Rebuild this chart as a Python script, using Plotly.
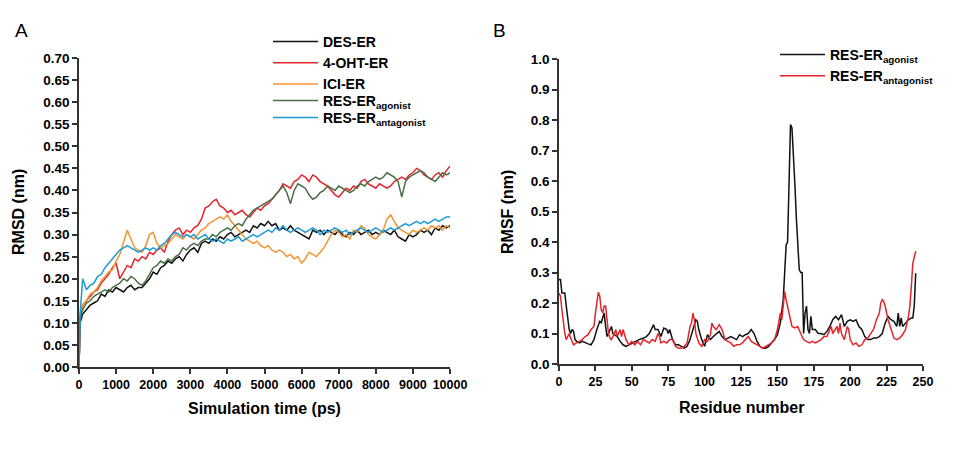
import plotly.graph_objects as go

# ---------------- Panel A data (RMSD vs time) ----------------
time_ps = [0, 30] + list(range(100, 10001, 100))

des_er = [0, 0.10, 0.12, 0.13, 0.14, 0.145, 0.15, 0.165, 0.16, 0.175, 0.17, 0.18,
          0.175, 0.17, 0.18, 0.185, 0.175, 0.18, 0.18, 0.19, 0.20, 0.215,
          0.21, 0.225, 0.23, 0.24, 0.235, 0.245, 0.25, 0.24, 0.255, 0.265,
          0.27, 0.26, 0.28, 0.285, 0.28, 0.29, 0.285, 0.295, 0.29, 0.30,
          0.305, 0.295, 0.30, 0.305, 0.31, 0.305, 0.32, 0.315, 0.325, 0.32,
          0.33, 0.32, 0.325, 0.31, 0.315, 0.31, 0.32, 0.31, 0.305, 0.30,
          0.295, 0.29, 0.31, 0.305, 0.31, 0.30, 0.31, 0.305, 0.30, 0.31,
          0.30, 0.295, 0.305, 0.30, 0.31, 0.30, 0.305, 0.31, 0.30, 0.305,
          0.30, 0.31, 0.305, 0.30, 0.31, 0.295, 0.29, 0.285, 0.30, 0.295,
          0.30, 0.31, 0.305, 0.31, 0.30, 0.315, 0.31, 0.32, 0.315, 0.32]

ohtt_er = [0, 0.11, 0.14, 0.15, 0.16, 0.17, 0.175, 0.19, 0.20, 0.21, 0.225, 0.235,
           0.20, 0.215, 0.23, 0.225, 0.245, 0.24, 0.25, 0.245, 0.26, 0.255,
           0.265, 0.27, 0.26, 0.285, 0.30, 0.31, 0.315, 0.30, 0.31, 0.305,
           0.315, 0.32, 0.335, 0.36, 0.365, 0.375, 0.38, 0.365, 0.36, 0.35,
           0.355, 0.345, 0.35, 0.355, 0.345, 0.34, 0.35, 0.36, 0.355, 0.365,
           0.37, 0.38, 0.39, 0.40, 0.415, 0.41, 0.405, 0.42, 0.425, 0.435,
           0.43, 0.42, 0.435, 0.43, 0.42, 0.415, 0.41, 0.40, 0.39, 0.385,
           0.395, 0.405, 0.40, 0.41, 0.405, 0.42, 0.425, 0.415, 0.41, 0.405,
           0.415, 0.41, 0.405, 0.41, 0.42, 0.425, 0.43, 0.425, 0.435, 0.44,
           0.45, 0.445, 0.435, 0.43, 0.425, 0.435, 0.44, 0.43, 0.445, 0.455]

ici_er = [0, 0.12, 0.14, 0.15, 0.165, 0.17, 0.18, 0.195, 0.205, 0.215, 0.22, 0.24,
          0.255, 0.285, 0.31, 0.29, 0.27, 0.265, 0.26, 0.275, 0.30, 0.305,
          0.28, 0.27, 0.275, 0.28, 0.29, 0.30, 0.295, 0.29, 0.30, 0.295,
          0.29, 0.30, 0.31, 0.315, 0.325, 0.33, 0.335, 0.34, 0.335, 0.345,
          0.33, 0.32, 0.31, 0.30, 0.29, 0.285, 0.28, 0.285, 0.275, 0.27,
          0.275, 0.265, 0.26, 0.265, 0.26, 0.25, 0.255, 0.245, 0.25, 0.235,
          0.245, 0.26, 0.255, 0.25, 0.26, 0.27, 0.285, 0.30, 0.31, 0.305,
          0.295, 0.30, 0.29, 0.31, 0.305, 0.32, 0.315, 0.30, 0.295, 0.29,
          0.30, 0.31, 0.335, 0.345, 0.33, 0.315, 0.31, 0.305, 0.30, 0.31,
          0.305, 0.31, 0.315, 0.31, 0.32, 0.315, 0.32, 0.31, 0.32, 0.315]

res_agonist_a = [0, 0.11, 0.13, 0.145, 0.15, 0.16, 0.165, 0.17, 0.175, 0.17, 0.18, 0.185,
                 0.19, 0.20, 0.195, 0.205, 0.20, 0.19, 0.185, 0.195, 0.21, 0.225,
                 0.23, 0.24, 0.235, 0.245, 0.24, 0.25, 0.255, 0.27, 0.265, 0.275,
                 0.28, 0.275, 0.285, 0.29, 0.29, 0.30, 0.295, 0.305, 0.31, 0.315,
                 0.31, 0.32, 0.325, 0.32, 0.335, 0.345, 0.355, 0.36, 0.365, 0.37,
                 0.375, 0.38, 0.39, 0.40, 0.41, 0.395, 0.37, 0.40, 0.415, 0.41,
                 0.405, 0.39, 0.38, 0.385, 0.395, 0.40, 0.41, 0.405, 0.40, 0.41,
                 0.405, 0.40, 0.395, 0.40, 0.41, 0.415, 0.41, 0.42, 0.425, 0.43,
                 0.425, 0.43, 0.44, 0.435, 0.43, 0.42, 0.385, 0.42, 0.43, 0.435,
                 0.44, 0.445, 0.44, 0.43, 0.425, 0.42, 0.43, 0.44, 0.435, 0.44]

res_antagonist_a = [0, 0.12, 0.20, 0.175, 0.185, 0.19, 0.205, 0.21, 0.225, 0.235, 0.245, 0.255,
                    0.265, 0.27, 0.275, 0.27, 0.265, 0.26, 0.265, 0.27, 0.265, 0.27,
                    0.265, 0.275, 0.28, 0.29, 0.30, 0.305, 0.30, 0.295, 0.30, 0.295,
                    0.30, 0.29, 0.295, 0.30, 0.29, 0.285, 0.29, 0.285, 0.28, 0.29,
                    0.285, 0.29, 0.295, 0.285, 0.29, 0.295, 0.30, 0.295, 0.30, 0.305,
                    0.31, 0.305, 0.315, 0.31, 0.32, 0.31, 0.305, 0.31, 0.315, 0.31,
                    0.305, 0.31, 0.315, 0.31, 0.30, 0.31, 0.305, 0.31, 0.315, 0.31,
                    0.305, 0.31, 0.30, 0.305, 0.31, 0.315, 0.31, 0.305, 0.31, 0.315,
                    0.31, 0.305, 0.31, 0.315, 0.31, 0.315, 0.32, 0.325, 0.32, 0.325,
                    0.33, 0.325, 0.33, 0.325, 0.33, 0.335, 0.33, 0.335, 0.34, 0.34]

# ---------------- Panel B data (RMSF vs residue) ----------------
res_ag_x = [0, 1, 2, 3, 4, 5, 6, 7, 8, 9, 10, 11, 12, 14, 16, 18, 20, 22, 24, 26, 28, 29, 30,
            31, 32, 33, 34, 35, 36, 37, 38, 40, 42, 44, 46, 48, 50, 52, 55, 58, 60, 62, 64,
            65, 66, 68, 70, 72, 74, 75, 76, 78, 80, 82, 84, 86, 88, 90, 92, 94, 95, 96, 98,
            100, 102, 104, 106, 108, 110, 112, 114, 116, 118, 120, 122, 124, 126, 128, 130,
            132, 134, 136, 138, 140, 142, 144, 146, 148, 150, 152, 154, 155, 156, 157, 158,
            159, 160, 161, 162, 163, 164, 165, 166, 167, 168, 169, 170, 171, 172, 173, 174,
            176, 178, 180, 182, 184, 186, 188, 190, 192, 194, 196, 198, 200, 202, 204, 206,
            208, 210, 212, 214, 216, 218, 220, 222, 224, 226, 228, 230, 232, 233, 234, 235,
            236, 238, 240, 242, 243, 244, 245]
res_ag_y = [0.277, 0.277, 0.233, 0.233, 0.233, 0.19, 0.156, 0.113, 0.10, 0.113, 0.107, 0.08,
            0.075, 0.069, 0.074, 0.069, 0.066, 0.063, 0.08, 0.113, 0.14, 0.135, 0.15,
            0.167, 0.124, 0.09, 0.10, 0.113, 0.123, 0.10, 0.096, 0.09, 0.074, 0.063, 0.058,
            0.063, 0.069, 0.074, 0.08, 0.085, 0.09, 0.10, 0.123,
            0.129, 0.113, 0.113, 0.09, 0.118, 0.113, 0.10, 0.113, 0.08, 0.063, 0.063, 0.058,
            0.052, 0.058, 0.08, 0.113, 0.145, 0.14, 0.113, 0.08,
            0.058, 0.096, 0.08, 0.09, 0.10, 0.107, 0.09, 0.08, 0.085, 0.09, 0.085, 0.08,
            0.096, 0.09, 0.096, 0.10,
            0.113, 0.10, 0.074, 0.058, 0.052, 0.052, 0.058, 0.069, 0.08, 0.096, 0.134, 0.21,
            0.31, 0.39, 0.40, 0.59,
            0.785, 0.774, 0.70, 0.59, 0.48, 0.397, 0.31, 0.30, 0.30, 0.10, 0.167, 0.19, 0.113,
            0.10, 0.156, 0.113,
            0.113, 0.10, 0.10, 0.096, 0.107, 0.123, 0.145, 0.156, 0.145, 0.162, 0.123, 0.14,
            0.145, 0.14, 0.145, 0.123,
            0.113, 0.09, 0.08, 0.08, 0.085, 0.085, 0.09, 0.10, 0.134, 0.156, 0.145, 0.14,
            0.123, 0.167, 0.123, 0.151,
            0.123, 0.134, 0.145, 0.151, 0.151, 0.19, 0.298]

res_an_x = [0, 1, 2, 3, 4, 5, 6, 7, 8, 9, 10, 12, 14, 16, 18, 20, 22, 24, 25, 26, 27, 28, 29,
            30, 31, 32, 33, 34, 35, 36, 38, 39, 40, 42, 43, 44, 46, 48, 50, 52, 54, 56, 58,
            60, 62, 64, 66, 68, 69, 70, 72, 74, 76, 78, 80, 82, 84, 86, 88, 90, 91, 92, 93,
            94, 96, 98, 100, 102, 104, 105, 106, 108, 110, 112, 114, 116, 118, 120, 122, 124,
            126, 128, 130, 132, 134, 136, 138, 140, 142, 144, 146, 148, 150, 152, 153, 154,
            155, 156, 157, 158, 159, 160, 162, 164, 166, 168, 170, 172, 174, 176, 178, 180,
            182, 184, 186, 187, 188, 190, 191, 192, 193, 194, 196, 198, 199, 200, 202, 204,
            206, 208, 210, 212, 214, 216, 218, 220, 221, 222, 223, 224, 226, 228, 230, 232,
            234, 236, 238, 240, 241, 242, 243, 244, 245]
res_an_y = [0.233, 0.222, 0.178, 0.134, 0.10, 0.08, 0.09, 0.10, 0.085, 0.074, 0.063, 0.069,
            0.074, 0.08, 0.09, 0.096, 0.113, 0.123, 0.167, 0.21, 0.235, 0.222, 0.178,
            0.167, 0.19, 0.19, 0.145, 0.10, 0.085, 0.08, 0.10, 0.113, 0.09, 0.113, 0.09,
            0.113, 0.08, 0.063, 0.074, 0.063, 0.074, 0.063, 0.08,
            0.074, 0.069, 0.08, 0.074, 0.10, 0.09, 0.069, 0.074, 0.069, 0.08, 0.08, 0.058,
            0.052, 0.052, 0.058, 0.069, 0.123, 0.134, 0.167, 0.145,
            0.10, 0.069, 0.058, 0.08, 0.074, 0.096, 0.134, 0.123, 0.113, 0.129, 0.113, 0.08,
            0.074, 0.069, 0.058, 0.063, 0.063,
            0.069, 0.08, 0.09, 0.074, 0.069, 0.063, 0.058, 0.052, 0.058, 0.063, 0.069, 0.08,
            0.113, 0.167, 0.145, 0.19,
            0.238, 0.21, 0.19, 0.167, 0.145, 0.123, 0.118, 0.123, 0.10, 0.08, 0.074, 0.069,
            0.074, 0.069, 0.074, 0.08,
            0.09, 0.09, 0.113, 0.123, 0.10, 0.113, 0.123, 0.10, 0.134, 0.10, 0.08, 0.123,
            0.113, 0.08, 0.063, 0.069,
            0.058, 0.063, 0.08, 0.085, 0.10, 0.113, 0.145, 0.167, 0.20, 0.211, 0.205, 0.19,
            0.145, 0.113, 0.085, 0.08,
            0.085, 0.096, 0.113, 0.156, 0.19, 0.255, 0.33, 0.35, 0.37]

x_ticks_a = [0, 1000, 2000, 3000, 4000, 5000, 6000, 7000, 8000, 9000, 10000]
y_ticks_a = [0.00, 0.05, 0.10, 0.15, 0.20, 0.25, 0.30, 0.35, 0.40, 0.45, 0.50, 0.55, 0.60, 0.65, 0.70]
x_ticks_b = [0, 25, 50, 75, 100, 125, 150, 175, 200, 225, 250]
y_ticks_b = [0.0, 0.1, 0.2, 0.3, 0.4, 0.5, 0.6, 0.7, 0.8, 0.9, 1.0]

FONT = "Liberation Sans, Arial, sans-serif"
C_BLACK = "#111111"
C_RED = "#e3262b"
C_ORANGE = "#f29431"
C_GREEN = "#4b6f45"
C_BLUE = "#1c9ad6"

# The page body has an 8px margin; figure is sized so it fills the 960x455 window exactly.
OFF = 8
W, H = 960 - 2 * OFF, 455 - 2 * OFF


def xp(px):
    return (px - OFF) / W


def yp(py):
    return (H - (py - OFF)) / H


fig = go.Figure()

series_a = [
    ("DES-ER", des_er, C_BLACK, "legend"),
    ("4-OHT-ER", ohtt_er, C_RED, "legend"),
    ("ICI-ER", ici_er, C_ORANGE, "legend"),
    ("RES-ER<sub>agonist</sub>", res_agonist_a, C_GREEN, "legend3"),
    ("RES-ER<sub>antagonist</sub>", res_antagonist_a, C_BLUE, "legend4"),
]
for name, vals, col, lg in series_a:
    fig.add_trace(go.Scatter(x=time_ps, y=vals, mode="lines", name="<b>" + name + "</b>",
                             line=dict(color=col, width=1.5),
                             xaxis="x", yaxis="y", legend=lg))

fig.add_trace(go.Scatter(x=res_ag_x, y=res_ag_y, mode="lines",
                         name="<b>RES-ER<sub>agonist</sub></b>",
                         line=dict(color=C_BLACK, width=1.5), xaxis="x2", yaxis="y2",
                         legend="legend2"))
fig.add_trace(go.Scatter(x=res_an_x, y=res_an_y, mode="lines",
                         name="<b>RES-ER<sub>antagonist</sub></b>",
                         line=dict(color=C_RED, width=1.5), xaxis="x2", yaxis="y2",
                         legend="legend2"))

axis_common = dict(showgrid=False, zeroline=False, showline=True, linecolor="#333333",
                   linewidth=1.5, ticks="outside", ticklen=5, tickwidth=1.5,
                   tickcolor="#333333", automargin=False)

legend_common = dict(xanchor="left", yanchor="top", bgcolor="rgba(0,0,0,0)",
                     font=dict(size=14), itemwidth=45, tracegroupgap=0)

fig.update_layout(
    width=W, height=H,
    margin=dict(l=0, r=0, t=0, b=0),
    paper_bgcolor="white", plot_bgcolor="white",
    font=dict(family=FONT, color="black"),
    xaxis=dict(domain=[xp(79), xp(450)], range=[0, 10000], tickvals=x_ticks_a,
               ticktext=["<b>%d</b>" % v for v in x_ticks_a],
               tickfont=dict(size=12.5), anchor="y", **axis_common),
    yaxis=dict(domain=[yp(367), yp(58)], range=[0, 0.7], tickvals=y_ticks_a,
               ticktext=["<b>%.2f</b>" % v for v in y_ticks_a],
               tickfont=dict(size=13.5), anchor="x", **axis_common),
    xaxis2=dict(domain=[xp(559), xp(923)], range=[0, 250], tickvals=x_ticks_b,
                ticktext=["<b>%d</b>" % v for v in x_ticks_b],
                tickfont=dict(size=12.5), anchor="y2", **axis_common),
    yaxis2=dict(domain=[yp(364), yp(59)], range=[0, 1.0], tickvals=y_ticks_b,
                ticktext=["<b>%.1f</b>" % v for v in y_ticks_b],
                tickfont=dict(size=13.5), anchor="x2", **axis_common),
    legend=dict(x=xp(268), y=yp(26), **legend_common),
    legend3=dict(x=xp(268), y=yp(85), **legend_common),
    legend4=dict(x=xp(268), y=yp(102), **legend_common),
    legend2=dict(x=xp(775), y=yp(39), **legend_common),
    showlegend=True,
)

annotations = [
    dict(text="A", x=xp(21), y=yp(31), font=dict(size=19)),
    dict(text="B", x=xp(499), y=yp(31), font=dict(size=19)),
    dict(text="<b>Simulation time (ps)</b>", x=xp(264.5), y=yp(408), font=dict(size=16)),
    dict(text="<b>RMSD (nm)</b>", x=xp(18), y=yp(212), textangle=-90, font=dict(size=16)),
    dict(text="<b>Residue number</b>", x=xp(741), y=yp(407), font=dict(size=16)),
    dict(text="<b>RMSF (nm)</b>", x=xp(507), y=yp(212), textangle=-90, font=dict(size=16)),
]
for a in annotations:
    fig.add_annotation(xref="paper", yref="paper", showarrow=False,
                       xanchor="center", yanchor="middle", **a)

fig.write_html("out.html")
